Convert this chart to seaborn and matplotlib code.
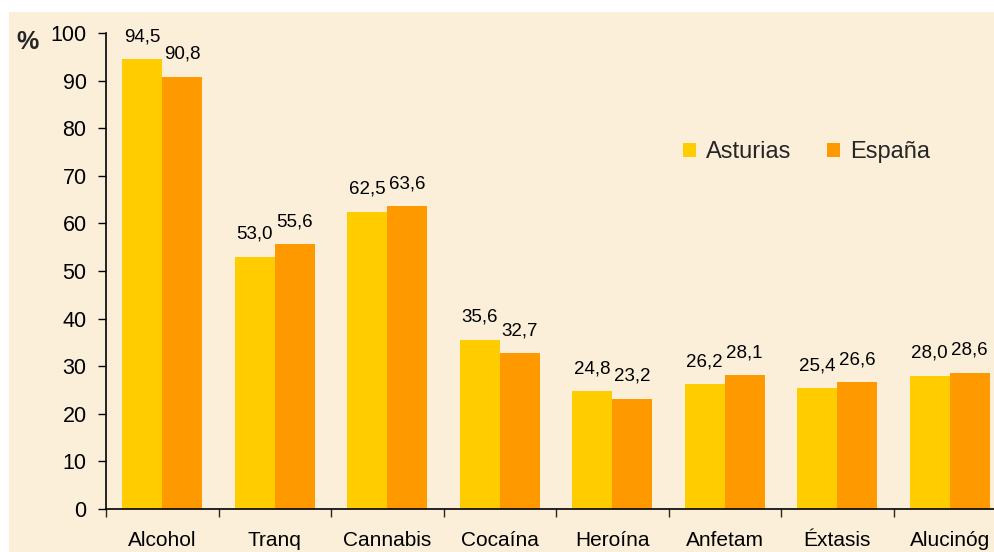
import numpy as np
import pandas as pd
import seaborn as sns
import matplotlib.pyplot as plt
from matplotlib.patches import Rectangle
from matplotlib.ticker import FixedLocator

categories = ["Alcohol", "Tranq", "Cannabis", "Cocaína", "Heroína", "Anfetam", "Éxtasis", "Alucinóg"]
asturias = [94.5, 53.0, 62.5, 35.6, 24.8, 26.2, 25.4, 28.0]
espana = [90.8, 55.6, 63.6, 32.7, 23.2, 28.1, 26.6, 28.6]
series = ["Asturias", "España"]
colors = ["#FFCC00", "#FF9900"]

df = pd.DataFrame({
    "cat": categories * 2,
    "serie": [series[0]] * len(categories) + [series[1]] * len(categories),
    "val": asturias + espana,
})

sns.set_theme(style="white")
plt.rcParams['font.family'] = ['Liberation Sans', 'DejaVu Sans']

fig = plt.figure(figsize=(9.94, 5.52), dpi=100)
fig.patch.set_facecolor("white")
bg = Rectangle((9 / 994, 0), 1, 540 / 552, transform=fig.transFigure,
               facecolor="#FBEFDA", edgecolor="none", zorder=-10)
fig.add_artist(bg)

ax = fig.add_axes([106 / 994, 43 / 552, 900 / 994, 476 / 552])
ax.set_facecolor("none")
ax.set_zorder(1)

sns.barplot(data=df, x="cat", y="val", hue="serie", palette=colors, width=0.71,
            gap=0, saturation=1, ax=ax, order=categories, hue_order=series,
            linewidth=0, edgecolor="none")

for cont in ax.containers:
    labs = [f"{b.get_height():.1f}".replace(".", ",") for b in cont]
    ax.bar_label(cont, labels=labs, padding=10, fontsize=13.5, color="black")

ax.set_ylim(0, 100)
ax.set_xlim(-0.5, len(categories) - 0.5)
ax.set_yticks(range(0, 101, 10))
ax.tick_params(axis="y", labelsize=15.5, length=6, width=1, direction="out", pad=8, colors="black", left=True)
ax.tick_params(axis="x", which="major", labelsize=15, length=0, pad=16, colors="black")
ax.xaxis.set_minor_locator(FixedLocator(np.arange(-0.5, len(categories), 1)))
ax.tick_params(axis="x", which="minor", length=6, width=1, direction="out", bottom=True)
ax.set_xlabel("")
ax.set_ylabel("")

for s in ["top", "right"]:
    ax.spines[s].set_visible(False)
for s in ["left", "bottom"]:
    ax.spines[s].set_color("black")
    ax.spines[s].set_linewidth(1.2)

leg = ax.legend(loc="center left", bbox_to_anchor=(0.617, 0.75), ncol=2, frameon=False,
                fontsize=17, handlelength=0.55, handleheight=0.55, handletextpad=0.45,
                columnspacing=1.5)
for h in leg.legend_handles:
    h.set_linewidth(0)

fig.text(16 / 994, 1 - 42 / 552, "%", fontsize=18, fontweight="bold", va="center", ha="left")

plt.savefig("out.png", dpi=100)
